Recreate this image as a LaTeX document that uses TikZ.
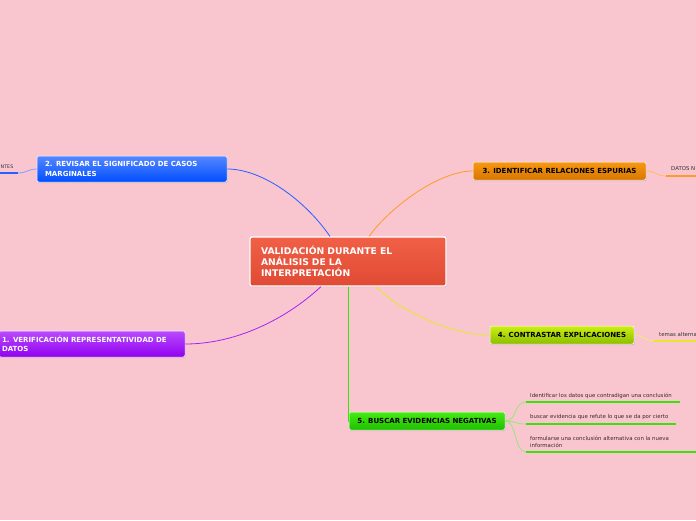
\documentclass[tikz,border=0pt]{standalone}
\usepackage{fontspec}
\setmainfont{DejaVu Sans}
\usetikzlibrary{shadows}
\definecolor{fondo}{RGB}{249,198,208}
\definecolor{rojoA}{RGB}{240,96,70}
\definecolor{rojoB}{RGB}{224,74,52}
\definecolor{azulA}{RGB}{85,135,255}
\definecolor{azulB}{RGB}{0,78,255}
\definecolor{azulL}{RGB}{40,95,255}
\definecolor{naranjaA}{RGB}{248,152,20}
\definecolor{naranjaB}{RGB}{214,118,0}
\definecolor{naranjaL}{RGB}{255,155,40}
\definecolor{limaA}{RGB}{205,238,20}
\definecolor{limaB}{RGB}{140,190,0}
\definecolor{limaL}{RGB}{228,232,40}
\definecolor{verdeA}{RGB}{70,235,20}
\definecolor{verdeB}{RGB}{30,190,0}
\definecolor{verdeL}{RGB}{60,225,10}
\definecolor{verdeS}{RGB}{150,232,120}
\definecolor{moradoA}{RGB}{185,75,255}
\definecolor{moradoB}{RGB}{145,0,238}
\definecolor{moradoL}{RGB}{165,35,245}
\definecolor{textoS}{RGB}{60,40,45}
\begin{document}
\begin{tikzpicture}[x=1pt,y=-1pt,
    tema/.style={rectangle, rounded corners=2pt, draw=white, line width=0.5pt,
        inner ysep=0pt, align=left,
        drop shadow={opacity=0.3, shadow xshift=0.6pt, shadow yshift=-1.2pt},
        font=\bfseries\fontsize{7}{9.5}\selectfont},
    sub/.style={anchor=west, inner sep=0pt, align=left, text=textoS,
        font=\fontsize{5.4}{7.2}\selectfont},
    rama/.style={line width=0.8pt},
    subraya/.style={line width=2.4pt}]
    \useasboundingbox[fill=fondo] (0,0) rectangle (696,520);
    % tema central
    \node[tema, draw=white, line width=1.2pt, top color=rojoA, bottom color=rojoB,
        minimum width=196, minimum height=49, inner xsep=11pt, text width=174,
        text=white, font=\bfseries\fontsize{9.2}{11}\selectfont]
        (central) at (348,261.5) {VALIDACIÓN DURANTE EL\\ANÁLISIS DE LA\\INTERPRETACIÓN};
    % temas principales
    \node[tema, top color=azulA, bottom color=azulB, text=white,
        minimum width=190, minimum height=26, inner xsep=8pt, text width=174]
        (revisar) at (132,169) {2. REVISAR EL SIGNIFICADO DE CASOS\\MARGINALES};
    \node[tema, top color=naranjaA, bottom color=naranjaB, text=black, align=center,
        minimum width=173, minimum height=18, inner xsep=4pt]
        (espurias) at (559.5,171) {3. IDENTIFICAR RELACIONES ESPURIAS};
    \node[tema, top color=limaA, bottom color=limaB, text=black, align=center,
        minimum width=144, minimum height=18, inner xsep=4pt]
        (contrastar) at (562,335) {4. CONTRASTAR EXPLICACIONES};
    \node[tema, top color=verdeA, bottom color=verdeB, text=black, align=center,
        minimum width=156, minimum height=18, inner xsep=4pt]
        (buscar) at (427,421) {5. BUSCAR EVIDENCIAS NEGATIVAS};
    \node[tema, top color=moradoA, bottom color=moradoB, text=white,
        minimum width=186, minimum height=26, inner xsep=3pt, text width=180]
        (verificar) at (92,344) {1. VERIFICACIÓN REPRESENTATIVIDAD DE\\DATOS};
    % ramas del tema central
    \draw[rama, azulL] ([xshift=-18pt]central.north) .. controls (305,200) and (262,169) .. (revisar.east);
    \draw[rama, naranjaL] ([xshift=21pt]central.north) .. controls (392,205) and (440,171) .. (espurias.west);
    \draw[rama, limaL] ([xshift=28pt]central.south) .. controls (405,315) and (455,335) .. (contrastar.west);
    \draw[rama, moradoL] ([xshift=-27pt]central.south) .. controls (285,320) and (235,344) .. (verificar.east);
    \draw[rama, verdeL] (central.south) -- (central.south |- buscar.west) -- (buscar.west);
    % subtemas
    \node[sub, text=black!80, font=\fontsize{4.8}{6}\selectfont] (importantes) at (0.5,167) {NTES};
    \coordinate (impA) at (18,173);
    \coordinate (impB) at (0,173);
    \draw[rama, azulL!60] (revisar.west) .. controls (28,169) and (27,173) .. (impA);
    \draw[subraya, azulL] (impA) -- (impB);
    \node[sub, text=black!80] (datosn) at (671,169) {DATOS N};
    \coordinate (datA) at (666,176);
    \coordinate (datB) at (696,176);
    \draw[rama, naranjaL!70] (espurias.east) .. controls (656,171) and (656,176) .. (datA);
    \draw[subraya, naranjaL] (datA) -- (datB);
    \node[sub, text=black!80] (temas) at (659,334) {temas alterna};
    \coordinate (temA) at (654,341);
    \coordinate (temB) at (696,341);
    \draw[rama, limaL!70] (contrastar.east) .. controls (644,335) and (644,341) .. (temA);
    \draw[subraya, limaL] (temA) -- (temB);
    \node[sub] (contradigan) at (530,396) {Identificar los datos que contradigan una conclusión};
    \node[sub] (refute) at (530,417) {buscar evidencia que refute lo que se da por cierto};
    \node[sub] (formularse) at (530,441.5) {formularse una conclusión alternativa con la nueva\\información};
    \coordinate (conA) at (526,402);
    \coordinate (conB) at (680,402);
    \coordinate (refA) at (526,424);
    \coordinate (refB) at (676,424);
    \coordinate (forA) at (526,452);
    \coordinate (forB) at (696,452);
    \draw[rama, verdeS] (buscar.east) .. controls (517,421) and (514,402) .. (conA);
    \draw[rama, verdeS] (buscar.east) .. controls (517,421) and (514,424) .. (refA);
    \draw[rama, verdeS] (buscar.east) .. controls (517,421) and (514,452) .. (forA);
    \draw[subraya, verdeL] (conA) -- (conB);
    \draw[subraya, verdeL] (refA) -- (refB);
    \draw[subraya, verdeL] (forA) -- (forB);
\end{tikzpicture}
\end{document}
